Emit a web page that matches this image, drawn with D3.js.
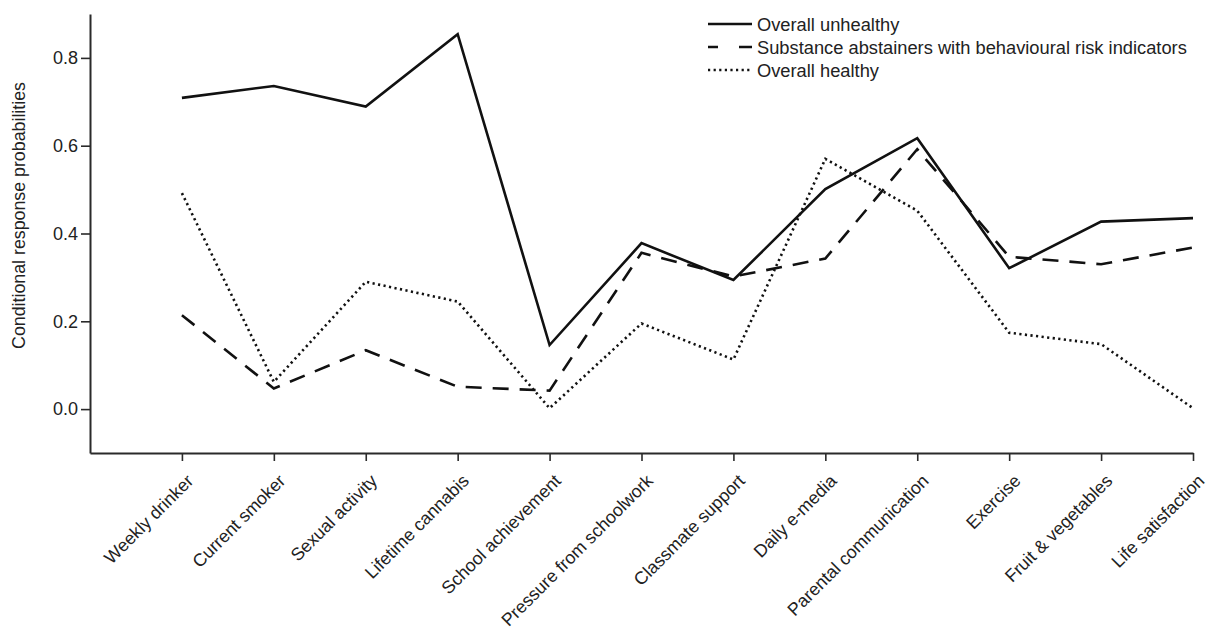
<!DOCTYPE html>
<html>
<head>
<meta charset="utf-8">
<script src="https://cdn.jsdelivr.net/npm/d3@7"></script>
<style>
  html, body { margin: 0; padding: 0; background: #fff; }
  svg { display: block; font-family: "Liberation Sans", Arial, sans-serif; }
</style>
</head>
<body>
<svg id="chart" width="1207" height="630"></svg>
<script>
const categories = ["Weekly drinker", "Current smoker", "Sexual activity", "Lifetime cannabis",
  "School achievement", "Pressure from schoolwork", "Classmate support", "Daily e-media",
  "Parental communication", "Exercise", "Fruit & vegetables", "Life satisfaction"];

const seriesNames = ["Overall unhealthy",
  "Substance abstainers with behavioural risk indicators",
  "Overall healthy"];

const overallUnhealthy = [0.709, 0.736, 0.689, 0.854, 0.146, 0.378, 0.294, 0.501, 0.617, 0.321, 0.427, 0.435];
const substanceAbstainers = [0.214, 0.047, 0.134, 0.051, 0.042, 0.356, 0.302, 0.343, 0.592, 0.347, 0.330, 0.368];
const overallHealthy = [0.492, 0.062, 0.290, 0.245, 0.002, 0.195, 0.113, 0.570, 0.452, 0.174, 0.148, 0.002];

const yTicks = [0.0, 0.2, 0.4, 0.6, 0.8];
const yTitle = "Conditional response probabilities";

const svg = d3.select("#chart");
const x = d3.scaleLinear().domain([0, categories.length]).range([90, 1193]);
const y = d3.scaleLinear().domain([-0.1, 0.9]).range([453, 14]);
const axisColor = "#2a2a2a";
const textColor = "#222";

// Y axis
const yAxis = svg.append("g").attr("transform", "translate(90,0)")
  .call(d3.axisLeft(y).tickValues(yTicks).tickFormat(d3.format(".1f")).tickSize(9).tickPadding(3).tickSizeOuter(0));
yAxis.select(".domain").attr("stroke", axisColor).attr("stroke-width", 2);
yAxis.selectAll(".tick line").attr("stroke", axisColor).attr("stroke-width", 1.6);
yAxis.selectAll(".tick text").attr("fill", textColor).attr("font-size", "18px")
  .attr("font-family", "Liberation Sans, Arial, sans-serif");

// X axis
const xAxis = svg.append("g").attr("transform", "translate(0,453)")
  .call(d3.axisBottom(x).tickValues(d3.range(1, categories.length + 1))
    .tickFormat(i => categories[i - 1]).tickSize(8).tickSizeOuter(0));
xAxis.select(".domain").attr("stroke", axisColor).attr("stroke-width", 2);
xAxis.selectAll(".tick line").attr("stroke", axisColor).attr("stroke-width", 1.6);
xAxis.selectAll(".tick text")
  .attr("fill", textColor).attr("font-size", "17.8px")
  .attr("font-family", "Liberation Sans, Arial, sans-serif")
  .attr("text-anchor", "end")
  .attr("y", 0).attr("dy", 0)
  .attr("transform", "translate(12,29) rotate(-45)");

// Y title
svg.append("text")
  .attr("transform", `translate(25,${(83 + 348) / 2}) rotate(-90)`)
  .attr("text-anchor", "middle")
  .attr("font-size", "17.8px").attr("fill", textColor)
  .text(yTitle);

// Lines
const series = [
  { name: seriesNames[0], values: overallUnhealthy, dash: null, legendDash: null },
  { name: seriesNames[1], values: substanceAbstainers, dash: "16,11", legendDash: "10,21,13" },
  { name: seriesNames[2], values: overallHealthy, dash: "2.2,3.4", legendDash: "2.2,3.4" }
];

const line = d3.line().x((d, i) => x(i + 1)).y(d => y(d));

svg.append("g").selectAll("path").data(series).join("path")
  .attr("d", d => line(d.values))
  .attr("fill", "none")
  .attr("stroke", "#111")
  .attr("stroke-width", (d, i) => i === 2 ? 2.6 : 2.6)
  .attr("stroke-linejoin", "miter")
  .attr("stroke-dasharray", d => d.dash);

// Legend
const legend = svg.append("g");
const rowsY = [24, 47, 70];
series.forEach((s, i) => {
  legend.append("line")
    .attr("x1", 708).attr("x2", 752).attr("y1", rowsY[i]).attr("y2", rowsY[i])
    .attr("stroke", "#111").attr("stroke-width", 2.6)
    .attr("stroke-dasharray", s.legendDash);
  legend.append("text")
    .attr("x", 757).attr("y", rowsY[i]).attr("dy", "0.36em")
    .attr("font-size", "18.3px").attr("fill", textColor)
    .text(s.name);
});
</script>
</body>
</html>
